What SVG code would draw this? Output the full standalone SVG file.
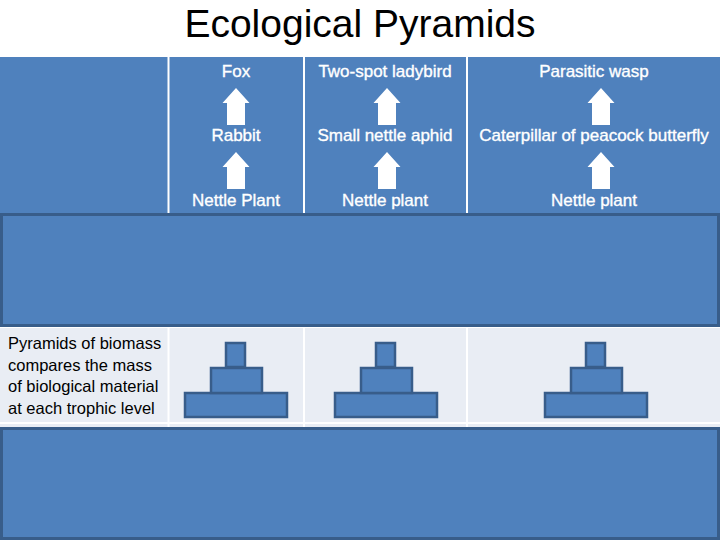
<svg xmlns="http://www.w3.org/2000/svg" xmlns:xlink="http://www.w3.org/1999/xlink" width="720" height="540" viewBox="0 0 720 540">
<style>
.cell{fill:#4f81bd}
.light{fill:#e9edf4}
.sep{stroke:#ffffff;stroke-width:2}
.band{fill:#4f81bd;stroke:#385d8a;stroke-width:3}
.lbl{font-family:"Liberation Sans",Arial,sans-serif;font-size:17px;fill:#ffffff;stroke:#ffffff;stroke-width:0.35;text-anchor:middle}
.desc{font-family:"Liberation Sans",Arial,sans-serif;font-size:16.5px;fill:#000000}
.title{font-family:"Liberation Sans",Arial,sans-serif;font-size:39px;fill:#000000;text-anchor:middle}
.pyr{fill:#4f81bd;stroke:#385d8a;stroke-width:2.5}
.arrow{fill:#ffffff}
</style>
<defs>
<path id="up" d="M0,0 L13.5,15 L9,15 L9,37 L-9,37 L-9,15 L-13.5,15 Z"/>
<g id="pyramid">
<rect x="-51" y="393" width="102" height="24"/>
<rect x="-25" y="368" width="51" height="25"/>
<rect x="-10" y="343" width="19" height="24"/>
</g>
</defs>
<rect width="720" height="540" fill="#ffffff"/>
<g id="title"><text class="title" x="360" y="37">Ecological Pyramids</text></g>
<g id="table">
<rect class="cell" x="0" y="57" width="720" height="158"/>
<rect class="light" x="0" y="327" width="720" height="100"/>
<line class="sep" x1="168.5" y1="57" x2="168.5" y2="427"/>
<line class="sep" x1="304" y1="57" x2="304" y2="427"/>
<line class="sep" x1="467" y1="57" x2="467" y2="427"/>
<line class="sep" x1="0" y1="327" x2="720" y2="327"/>
<line class="sep" x1="0" y1="423" x2="720" y2="423"/>
</g>
<g id="band-top"><rect class="band" x="1.5" y="214.5" width="717" height="111"/></g>
<g id="band-bottom"><rect class="band" x="1.5" y="428.5" width="717" height="110"/></g>
<g id="col1">
<text class="lbl" x="236" y="77">Fox</text>
<text class="lbl" x="236" y="141">Rabbit</text>
<text class="lbl" x="236" y="206">Nettle Plant</text>
</g>
<g id="col2">
<text class="lbl" x="385" y="77">Two-spot ladybird</text>
<text class="lbl" x="385" y="141">Small nettle aphid</text>
<text class="lbl" x="385" y="206">Nettle plant</text>
</g>
<g id="col3">
<text class="lbl" x="594" y="77">Parasitic wasp</text>
<text class="lbl" x="594" y="141">Caterpillar of peacock butterfly</text>
<text class="lbl" x="594" y="206">Nettle plant</text>
</g>
<g id="connectors" class="arrow">
<use xlink:href="#up" x="236" y="88"/>
<use xlink:href="#up" x="236" y="152"/>
<use xlink:href="#up" x="387" y="88"/>
<use xlink:href="#up" x="387" y="152"/>
<use xlink:href="#up" x="601" y="88"/>
<use xlink:href="#up" x="601" y="152"/>
</g>
<g id="description">
<text class="desc" x="8" y="349">Pyramids of biomass</text>
<text class="desc" x="8" y="371">compares the mass</text>
<text class="desc" x="8" y="392">of biological material</text>
<text class="desc" x="8" y="414">at each trophic level</text>
</g>
<g id="pyramid1" class="pyr"><use xlink:href="#pyramid" x="236"/></g>
<g id="pyramid2" class="pyr"><use xlink:href="#pyramid" x="386"/></g>
<g id="pyramid3" class="pyr"><use xlink:href="#pyramid" x="596"/></g>
</svg>
